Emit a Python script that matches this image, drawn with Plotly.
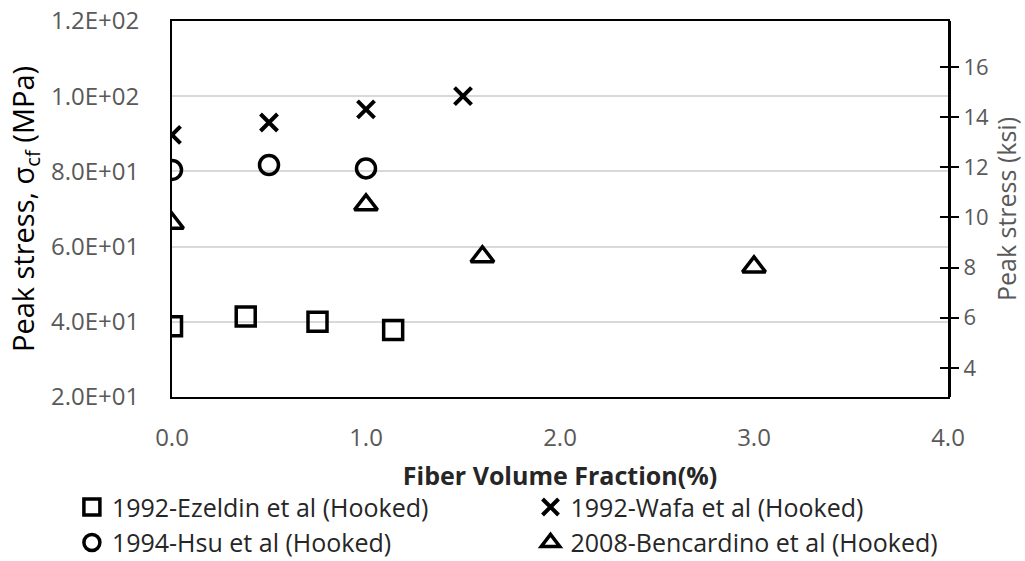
import plotly.graph_objects as go

# ---- data ----
ezeldin_x = [0.0, 0.38, 0.75, 1.14]
ezeldin_y = [38.8, 41.4, 40.0, 37.8]
wafa_x = [0.0, 0.5, 1.0, 1.5]
wafa_y = [89.7, 93.0, 96.5, 100.0]
hsu_x = [0.0, 0.5, 1.0]
hsu_y = [80.4, 81.7, 80.8]
benc_x = [0.0, 1.0, 1.6, 3.0]
benc_y = [66.2, 71.1, 57.3, 54.6]

y_tickvals = [20, 40, 60, 80, 100, 120]
y_ticktext = ["2.0E+01", "4.0E+01", "6.0E+01", "8.0E+01", "1.0E+02", "1.2E+02"]
x_tickvals = [0, 1, 2, 3, 4]
x_ticktext = ["0.0", "1.0", "2.0", "3.0", "4.0"]
ksi_tickvals = [4, 6, 8, 10, 12, 14, 16]
ksi_range = [2.84, 17.83]

FONT = "Open Sans, sans-serif"
TICKC = "#595959"
LEGC = "#262626"

fig = go.Figure()
fig.add_trace(go.Scatter(x=ezeldin_x, y=ezeldin_y, mode="markers",
                         name="1992-Ezeldin et al (Hooked)", legend="legend", legendgroup="a",
                         marker=dict(symbol="square-open", size=19, color="black",
                                     line=dict(width=3.5, color="black"))))
fig.add_trace(go.Scatter(x=wafa_x, y=wafa_y, mode="markers",
                         name="1992-Wafa et al (Hooked)", legend="legend2", legendgroup="b",
                         marker=dict(symbol="x-thin-open", size=17, color="black",
                                     line=dict(width=4, color="black"))))
fig.add_trace(go.Scatter(x=hsu_x, y=hsu_y, mode="markers",
                         name="1994-Hsu et al (Hooked)", legend="legend", legendgroup="c",
                         marker=dict(symbol="circle-open", size=19, color="black",
                                     line=dict(width=3.5, color="black"))))
fig.add_trace(go.Scatter(x=benc_x, y=benc_y, mode="markers",
                         name="2008-Bencardino et al (Hooked)", legend="legend2", legendgroup="d",
                         marker=dict(symbol="triangle-up-open", size=20, color="black",
                                     line=dict(width=3.5, color="black"))))
# empty traces so the secondary (ksi) axes render
fig.add_trace(go.Scatter(x=[None], y=[None], yaxis="y2", showlegend=False, hoverinfo="skip"))
fig.add_trace(go.Scatter(x=[None], y=[None], yaxis="y3", showlegend=False, hoverinfo="skip"))

legend_common = dict(orientation="v", xanchor="left", yanchor="top",
                     font=dict(size=25, color=LEGC, family=FONT), itemwidth=30,
                     tracegroupgap=0, bgcolor="rgba(0,0,0,0)")

fig.update_layout(
    width=1025, height=561,
    margin=dict(l=172, r=77, t=21, b=164, autoexpand=False),
    paper_bgcolor="white", plot_bgcolor="white",
    font=dict(family=FONT, color=TICKC, size=17),
    xaxis=dict(range=[0, 4], tickvals=x_tickvals, ticktext=x_ticktext,
               showgrid=False, zeroline=False, showline=True, linecolor="black",
               linewidth=2, mirror=True, ticks="", ticklabelstandoff=18,
               automargin=False,
               tickfont=dict(size=24, color=TICKC),
               title=dict(text="<b>Fiber Volume Fraction(%)</b>", standoff=16,
                          font=dict(size=25, color="#262626"))),
    yaxis=dict(range=[20, 120], tickvals=y_tickvals, ticktext=y_ticktext,
               showgrid=True, gridcolor="#d9d9d9", gridwidth=1.5, zeroline=False,
               showline=True, linecolor="black", linewidth=2, mirror=True,
               ticks="", ticklabelstandoff=26, automargin=False,
               tickfont=dict(size=24, color=TICKC),
               title=dict(text="Peak stress, σ<sub>cf</sub> (MPa)", standoff=8,
                          font=dict(size=29, color="black"))),
    yaxis2=dict(range=ksi_range, tickvals=ksi_tickvals, overlaying="y", side="right",
                showgrid=False, zeroline=False, showline=True, linecolor="black",
                linewidth=3, ticks="outside", ticklen=8, tickwidth=1.5, tickcolor="black",
                automargin=False,
                tickfont=dict(size=22, color=TICKC),
                title=dict(text="Peak stress (ksi)", standoff=6,
                           font=dict(size=25, color=TICKC))),
    yaxis3=dict(range=ksi_range, tickvals=ksi_tickvals, overlaying="y", side="right",
                showgrid=False, zeroline=False, showline=False, automargin=False,
                ticks="inside", ticklen=8, tickwidth=1.5, tickcolor="black",
                showticklabels=False),
    legend=dict(x=-0.129, y=-0.232, **legend_common),
    legend2=dict(x=0.462, y=-0.232, **legend_common),
    showlegend=True,
)

fig.write_html("out.html", config={"displayModeBar": False},
               post_script="document.body.style.margin='0';document.body.style.padding='0';")
